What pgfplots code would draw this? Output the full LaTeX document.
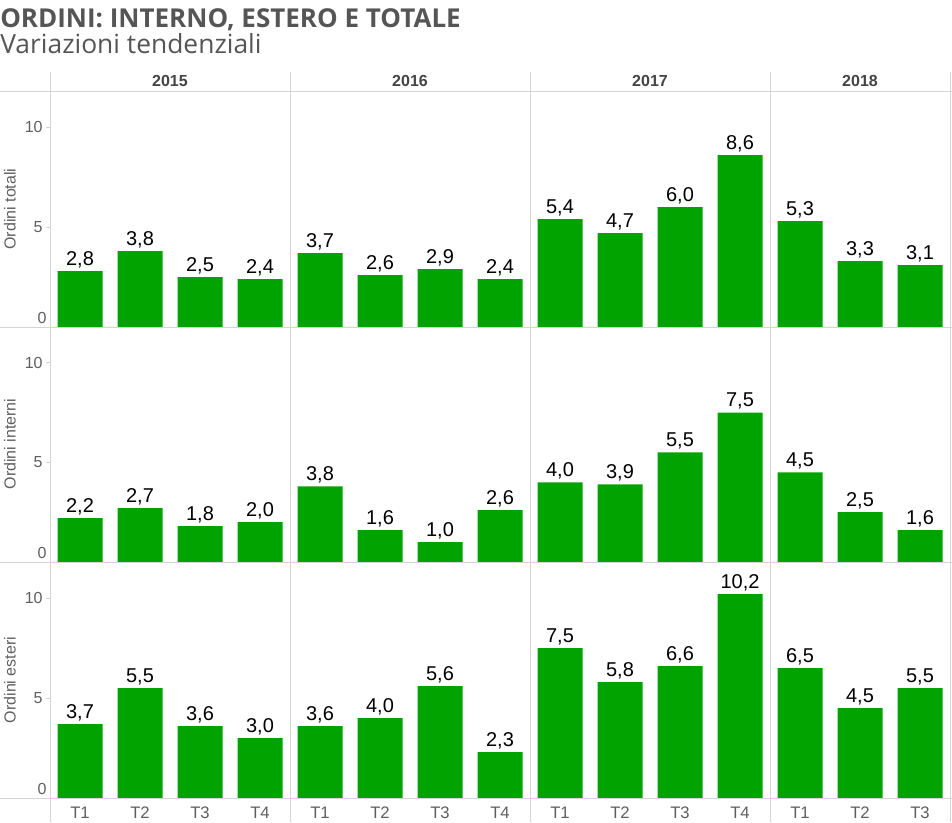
\documentclass[border=0pt]{standalone}
\usepackage{pgfplots}
\pgfplotsset{compat=1.18}
\usepackage{fontspec}
\setmainfont{Liberation Sans}
\newfontfamily\titlefont{Open Sans}
\definecolor{bargreen}{HTML}{00A300}
\definecolor{gridc}{HTML}{D4D4D4}
\definecolor{tickc}{HTML}{5F5F5F}
\definecolor{titlec}{HTML}{555555}
\definecolor{headc}{HTML}{444444}

\pgfplotsset{rowstyle/.style={
  scale only axis, width=675pt,
  xmin=-0.5, xmax=14.5, ymin=0, ymax=11.8,
  axis line style={draw=none},
  ybar, bar width=33.75pt,
  ytick={5,10}, ytick pos=left, xtick pos=bottom,
  tick align=outside, major tick length=3pt,
  tick style={gridc, line width=0.75pt},
  yticklabel style={font=\fontsize{12}{14}\selectfont, text=tickc, xshift=1pt},
  extra y ticks={0},
  extra y tick style={major tick length=0pt, yticklabel style={yshift=6.75pt}},
  xtick=\empty,
  /pgf/number format/assume math mode=true,
  nodes near coords={\pgfmathprintnumber[fixed,fixed zerofill,precision=1,use comma]{\pgfplotspointmeta}},
  every node near coord/.append style={font=\fontsize{15}{17}\selectfont, text=black, anchor=base, yshift=4.5pt},
}}

\begin{document}
\begin{tikzpicture}
\useasboundingbox (0,0) rectangle (714pt,-616.5pt);

% Row 1: Ordini totali
\begin{axis}[rowstyle, at={(37.5pt,-245.25pt)}, anchor=south west, height=177pt]
\addplot[fill=bargreen, draw=none] coordinates {(0,2.8) (1,3.8) (2,2.5) (3,2.4) (4,3.7) (5,2.6) (6,2.9) (7,2.4) (8,5.4) (9,4.7) (10,6.0) (11,8.6) (12,5.3) (13,3.3) (14,3.1)};
\end{axis}

% Row 2: Ordini interni
\begin{axis}[rowstyle, at={(37.5pt,-421.5pt)}, anchor=south west, height=176.25pt]
\addplot[fill=bargreen, draw=none] coordinates {(0,2.2) (1,2.7) (2,1.8) (3,2.0) (4,3.8) (5,1.6) (6,1.0) (7,2.6) (8,4.0) (9,3.9) (10,5.5) (11,7.5) (12,4.5) (13,2.5) (14,1.6)};
\end{axis}

% Row 3: Ordini esteri
\begin{axis}[rowstyle, at={(37.5pt,-598.5pt)}, anchor=south west, height=177pt,
  xtick={0,...,14},
  xticklabels={T1,T2,T3,T4,T1,T2,T3,T4,T1,T2,T3,T4,T1,T2,T3},
  xticklabel style={font=\fontsize{12.5}{14}\selectfont, text=tickc},
  xtick style={draw=none},
  minor xtick={0.5,1.5,...,13.5},
  minor tick length=3pt,
  minor tick style={gridc, line width=0.75pt}]
\addplot[fill=bargreen, draw=none] coordinates {(0,3.7) (1,5.5) (2,3.6) (3,3.0) (4,3.6) (5,4.0) (6,5.6) (7,2.3) (8,7.5) (9,5.8) (10,6.6) (11,10.2) (12,6.5) (13,4.5) (14,5.5)};
\end{axis}

\begin{scope}[x=0.75pt,y=-0.75pt]
  \draw[gridc, line width=0.75pt] (0,91) -- (952,91);
  \draw[gridc, line width=0.75pt] (0,327) -- (952,327);
  \draw[gridc, line width=0.75pt] (0,562) -- (952,562);
  \draw[gridc, line width=0.75pt] (0,798) -- (952,798);
  \foreach \xx in {50,290,530,770,950.5}
    \draw[gridc, line width=0.75pt] (\xx,72) -- (\xx,822);
  % headers
  \foreach \xx/\yy in {170/2015,410/2016,650/2017,860/2018}
    \node[font=\bfseries\fontsize{12}{14}\selectfont, text=headc] at (\xx,81) {\yy};
  % row labels
  \node[rotate=90, font=\fontsize{12}{14}\selectfont, text=tickc] at (10,209) {Ordini totali};
  \node[rotate=90, font=\fontsize{12}{14}\selectfont, text=tickc] at (10,444) {Ordini interni};
  \node[rotate=90, font=\fontsize{12}{14}\selectfont, text=tickc] at (10,680) {Ordini esteri};
  % titles
  \node[anchor=base west, inner sep=0, text=titlec, font=\titlefont\bfseries\fontsize{19.5}{21}\selectfont] at (0,27) {ORDINI: INTERNO, ESTERO E TOTALE};
  \node[anchor=base west, inner sep=0, text=titlec, font=\titlefont\fontsize{19.8}{21}\selectfont] at (0,53) {Variazioni tendenziali};
\end{scope}
\end{tikzpicture}
\end{document}
